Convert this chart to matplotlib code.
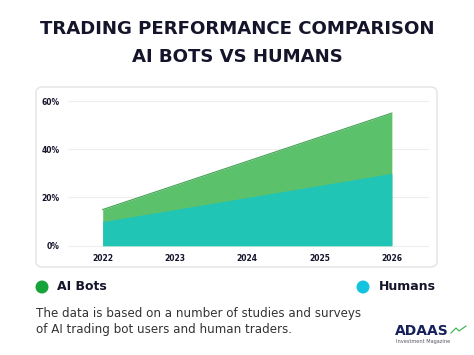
import matplotlib.pyplot as plt
from matplotlib.patches import FancyBboxPatch, Ellipse
from matplotlib.ticker import FuncFormatter

years = [2022, 2023, 2024, 2025, 2026]
ai_bots = [15, 25, 35, 45, 55]
humans = [10, 15, 20, 25, 30]
y_ticks = [0, 20, 40, 60]

AI_GREEN = '#5cc16b'
HUMAN_TEAL = '#20c5b5'
DARK = '#14142b'

plt.rcParams['font.family'] = ['DejaVu Sans']

fig = plt.figure(figsize=(4.74, 3.55), dpi=100)
W, H = 474, 355


def fx(px):
    return px / W


def fy(py):
    return 1 - py / H


def dot(x, y, color):
    # round dot in pixel units, so it stays a circle
    fig.patches.append(Ellipse((fx(x), fy(y)), 13 / W, 13 / H, transform=fig.transFigure,
                               facecolor=color, edgecolor='none'))


# title
fig.text(0.5, fy(29), 'TRADING PERFORMANCE COMPARISON', ha='center', va='center',
         fontsize=13.1, fontweight='bold', color=DARK)
fig.text(0.5, fy(57), 'AI BOTS VS HUMANS', ha='center', va='center',
         fontsize=13.1, fontweight='bold', color=DARK)

# card behind chart
card = FancyBboxPatch((fx(36), fy(267)), fx(437) - fx(36), fy(87) - fy(267),
                      boxstyle='round,pad=0,rounding_size=0.015',
                      transform=fig.transFigure, facecolor='white',
                      edgecolor='#e3e3e3', linewidth=1.0, zorder=-1)
fig.patches.append(card)

ax = fig.add_axes([fx(68), fy(245.7), fx(428) - fx(68), fy(101) - fy(245.7)])
ax.set_zorder(2)
ax.set_facecolor('none')
ax.fill_between(years, 0, ai_bots, color=AI_GREEN, linewidth=0, zorder=2)
ax.plot(years, ai_bots, color='#3f9e50', linewidth=0.8, zorder=3)
ax.fill_between(years, 0, humans, color=HUMAN_TEAL, linewidth=0, zorder=3)

ax.set_xlim(2021.52, 2026.5)
ax.set_ylim(0, 60)
ax.set_xticks(years)
ax.set_yticks(y_ticks)
ax.yaxis.set_major_formatter(FuncFormatter(lambda v, p: '{:d}%'.format(int(v))))
ax.grid(axis='y', color='#eeeeee', linewidth=0.8, zorder=0)
for gl in ax.get_ygridlines():
    gl.set_clip_on(False)
ax.tick_params(length=0, labelsize=5.5, labelcolor=DARK, pad=6)
for lbl in ax.get_xticklabels() + ax.get_yticklabels():
    lbl.set_fontweight('bold')
for sp in ax.spines.values():
    sp.set_visible(False)

# legend
dot(42, 287, '#16a33a')
fig.text(fx(57), fy(287), 'AI Bots', ha='left', va='center', fontsize=9,
         fontweight='bold', color=DARK)
dot(363, 287, '#14c4df')
fig.text(fx(379), fy(287), 'Humans', ha='left', va='center', fontsize=9,
         fontweight='bold', color=DARK)

# note
fig.text(fx(36), fy(313), 'The data is based on a number of studies and surveys',
         ha='left', va='center', fontsize=8.6, color='#333333')
fig.text(fx(36), fy(329), 'of AI trading bot users and human traders.',
         ha='left', va='center', fontsize=8.6, color='#333333')

# logo
fig.text(fx(395), fy(331), 'ADAAS', ha='left', va='center', fontsize=10,
         fontweight='bold', color='#16205a')
fig.lines.append(plt.Line2D([fx(451), fx(456), fx(459), fx(466)],
                            [fy(333), fy(328), fy(331), fy(326)],
                            transform=fig.transFigure, color='#2fb14a', linewidth=0.8))
fig.text(fx(396), fy(342), 'Investment Magazine', ha='left', va='center',
         fontsize=3.6, color='#555566')

fig.savefig('out.png', dpi=100, facecolor='white')
